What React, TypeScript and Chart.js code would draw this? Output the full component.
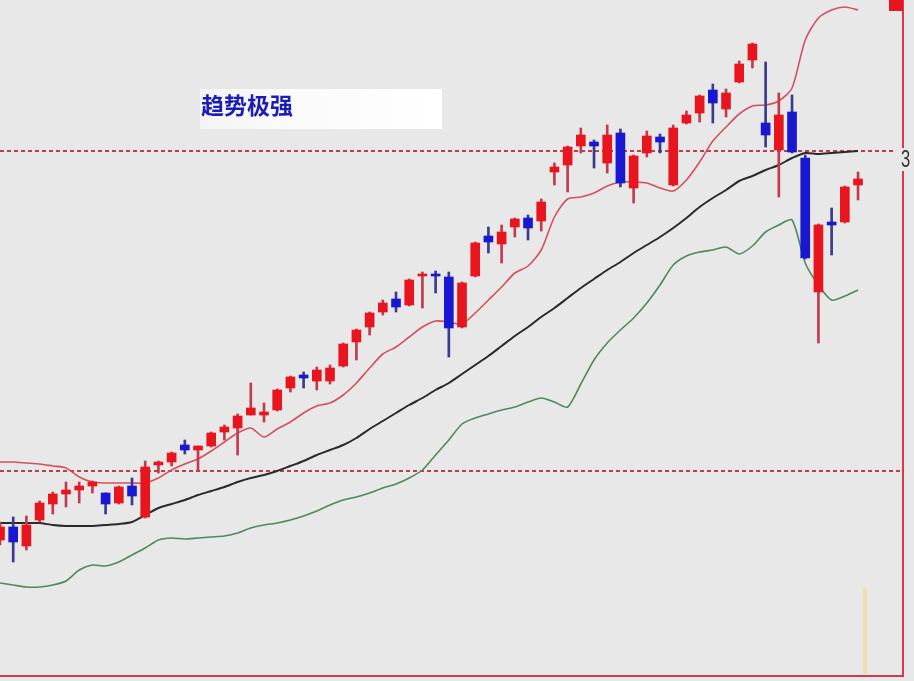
import React, { useEffect, useRef } from 'react';
import { Chart, registerables } from 'chart.js';

Chart.register(...registerables);

// Daily OHLC prices
const opens = [
  2460, 2473, 2454, 2480, 2496, 2506, 2510, 2514, 2507, 2497,
  2514, 2483, 2535, 2538, 2555, 2550, 2554, 2568, 2572, 2585,
  2585, 2590, 2612, 2625, 2619, 2619, 2634, 2658, 2673, 2688,
  2701, 2695, 2724, 2726, 2723, 2673, 2724, 2764, 2756, 2773,
  2782, 2779, 2828, 2835, 2854, 2858, 2837, 2867, 2812, 2847,
  2863, 2815, 2877, 2887, 2910, 2891, 2918, 2940, 2877, 2850,
  2888, 2842, 2708, 2778, 2778, 2815,
];
const highs = [
  2478, 2483, 2484, 2499, 2508, 2518, 2518, 2519, 2507, 2514,
  2522, 2539, 2539, 2548, 2560, 2554, 2568, 2575, 2586, 2617,
  2597, 2611, 2624, 2628, 2633, 2635, 2657, 2671, 2688, 2700,
  2708, 2721, 2728, 2729, 2728, 2718, 2758, 2773, 2775, 2782,
  2785, 2801, 2837, 2854, 2872, 2860, 2875, 2871, 2845, 2869,
  2866, 2875, 2889, 2905, 2916, 2911, 2939, 2957, 2938, 2907,
  2905, 2845, 2776, 2792, 2814, 2828,
];
const lows = [
  2455, 2438, 2450, 2478, 2486, 2493, 2497, 2507, 2486, 2496,
  2495, 2482, 2527, 2534, 2546, 2530, 2553, 2560, 2545, 2585,
  2578, 2589, 2608, 2612, 2610, 2616, 2633, 2640, 2665, 2685,
  2688, 2694, 2692, 2707, 2643, 2672, 2723, 2747, 2737, 2763,
  2760, 2769, 2815, 2808, 2847, 2832, 2827, 2813, 2797, 2843,
  2847, 2814, 2876, 2878, 2877, 2883, 2917, 2932, 2853, 2803,
  2847, 2741, 2657, 2745, 2777, 2800,
];
const closes = [
  2473, 2458, 2475, 2497, 2506, 2510, 2514, 2518, 2496, 2513,
  2504, 2533, 2538, 2547, 2550, 2554, 2567, 2573, 2584, 2592,
  2588, 2610, 2623, 2622, 2630, 2632, 2656, 2670, 2687, 2697,
  2693, 2720, 2726, 2724, 2672, 2717, 2757, 2758, 2768, 2781,
  2772, 2798, 2833, 2853, 2865, 2854, 2865, 2817, 2844, 2864,
  2858, 2872, 2885, 2904, 2897, 2907, 2936, 2956, 2865, 2885,
  2848, 2742, 2775, 2775, 2813, 2821,
];

// Bollinger bands
const upperBand = [
  2538, 2538, 2537, 2536, 2534, 2532, 2523, 2518, 2517, 2517,
  2517, 2517, 2522, 2530, 2536, 2541, 2549, 2558, 2567, 2572,
  2563, 2571, 2578, 2587, 2594, 2597, 2605, 2617, 2632, 2646,
  2653, 2663, 2673, 2679, 2678, 2676, 2687, 2700, 2713, 2727,
  2734, 2750, 2783, 2801, 2803, 2807, 2814, 2818, 2818, 2817,
  2812, 2809, 2820, 2838, 2859, 2873, 2886, 2894, 2895, 2899,
  2912, 2960, 2982, 2990, 2993, 2990,
];
const midBand = [
  2477, 2477, 2477, 2477, 2475, 2474, 2474, 2474, 2475, 2476,
  2478, 2485, 2492, 2496, 2500, 2505, 2509, 2513, 2518, 2522,
  2525, 2529, 2534, 2539, 2545, 2550, 2555, 2562, 2571, 2579,
  2587, 2595, 2602, 2610, 2617, 2626, 2635, 2644, 2654, 2664,
  2673, 2683, 2692, 2702, 2712, 2721, 2730, 2738, 2747, 2755,
  2763, 2772, 2782, 2793, 2802, 2810, 2819, 2824, 2830, 2835,
  2842, 2847, 2846, 2847, 2848, 2849,
];
const lowerBand = [
  2417, 2415, 2413, 2413, 2415, 2419, 2430, 2435, 2434, 2438,
  2445, 2452, 2460, 2462, 2461, 2462, 2463, 2464, 2467, 2472,
  2475, 2477, 2480, 2484, 2489, 2495, 2500, 2503, 2507, 2512,
  2516, 2522, 2530, 2545, 2560, 2576, 2582, 2586, 2590, 2593,
  2598, 2602, 2598, 2593, 2616, 2640, 2657, 2670, 2682, 2697,
  2715, 2735, 2744, 2748, 2750, 2753, 2746, 2754, 2768, 2775,
  2780, 2737, 2715, 2700, 2704, 2710,
];

// Horizontal reference levels
const resistanceLevel = 2849;
const supportLevel = 2529;
const priceLabel = '3';
const caption = '趋势极强';

const UP = '#e8141e';
const DOWN = '#1818d2';
const UP_WICK = '#c23a4c';
const DOWN_WICK = '#3a3a8e';

const decorPlugin = {
  id: 'decor',
  beforeDraw(chart: any) {
    const { ctx, width, height } = chart;
    ctx.save();
    ctx.fillStyle = '#e8e8e8';
    ctx.fillRect(0, 0, width, height);
    ctx.restore();
  },
  beforeDatasetsDraw(chart: any) {
    const { ctx } = chart;
    ctx.save();
    // caption panel
    const grad = ctx.createLinearGradient(200, 0, 442, 0);
    grad.addColorStop(0, '#f4f4f4');
    grad.addColorStop(0.4, '#fbfbfb');
    grad.addColorStop(1, '#ffffff');
    ctx.fillStyle = grad;
    ctx.fillRect(200, 89, 242, 40);
    ctx.fillStyle = '#1c1cb8';
    ctx.font = 'bold 23px "Noto Sans CJK SC", sans-serif';
    ctx.textBaseline = 'middle';
    ctx.textAlign = 'left';
    ctx.fillText(caption, 201, 105);
    ctx.restore();
  },
  afterDraw(chart: any) {
    const { ctx, scales } = chart;
    const yRes = scales.y.getPixelForValue(resistanceLevel);
    ctx.save();
    // right frame line, interrupted by the price label
    ctx.strokeStyle = '#d23c50';
    ctx.lineWidth = 2;
    ctx.beginPath();
    ctx.moveTo(903, 0);
    ctx.lineTo(903, yRes - 3);
    ctx.moveTo(903, yRes + 20);
    ctx.lineTo(903, 677);
    ctx.stroke();
    // bottom frame line
    ctx.strokeStyle = '#c8404f';
    ctx.beginPath();
    ctx.moveTo(0, 676);
    ctx.lineTo(904, 676);
    ctx.stroke();
    // marker block
    ctx.fillStyle = UP;
    ctx.fillRect(889, 0, 14, 11);
    // pale marker line
    ctx.fillStyle = '#eee0aa';
    ctx.fillRect(863, 588, 4, 86);
    // price label
    ctx.fillStyle = '#333333';
    ctx.font = '23px "Liberation Sans", sans-serif';
    ctx.textBaseline = 'top';
    ctx.translate(901, yRes - 2);
    ctx.scale(0.72, 1);
    ctx.fillText(priceLabel, 0, 0);
    ctx.restore();
  },
};

export default function App() {
  const canvasRef = useRef<HTMLCanvasElement | null>(null);

  useEffect(() => {
    const canvas = canvasRef.current;
    if (!canvas) return;
    const sessions = opens.map((_, i) => i);
    const rising = sessions.map((i) => closes[i] >= opens[i]);
    const lastX = sessions.length - 1;

    const chart = new Chart(canvas, {
      type: 'bar',
      data: {
        datasets: [
          {
            type: 'bar',
            label: 'body',
            data: sessions.map((i) => ({ x: i, y: [opens[i], closes[i]] })) as any,
            backgroundColor: rising.map((r) => (r ? UP : DOWN)),
            borderWidth: 0,
            barThickness: 9,
            grouped: false,
            order: 0,
          },
          {
            type: 'bar',
            label: 'wick',
            data: sessions.map((i) => ({ x: i, y: [lows[i], highs[i]] })) as any,
            backgroundColor: rising.map((r) => (r ? UP_WICK : DOWN_WICK)),
            borderWidth: 0,
            barThickness: 2,
            grouped: false,
            order: 1,
          },
          {
            type: 'line',
            label: 'upper',
            data: sessions.map((i) => ({ x: i, y: upperBand[i] })),
            borderColor: '#d4505e',
            borderWidth: 1.6,
            pointRadius: 0,
            tension: 0.25,
            order: 2,
          },
          {
            type: 'line',
            label: 'mid',
            data: sessions.map((i) => ({ x: i, y: midBand[i] })),
            borderColor: '#2a2a2a',
            borderWidth: 2,
            pointRadius: 0,
            tension: 0.25,
            order: 2,
          },
          {
            type: 'line',
            label: 'lower',
            data: sessions.map((i) => ({ x: i, y: lowerBand[i] })),
            borderColor: '#4c8a5c',
            borderWidth: 1.6,
            pointRadius: 0,
            tension: 0.25,
            order: 2,
          },
          {
            type: 'line',
            label: 'resistance',
            data: [
              { x: 0, y: resistanceLevel },
              { x: lastX + 2.8, y: resistanceLevel },
            ],
            borderColor: '#b8404c',
            borderWidth: 2,
            borderDash: [4, 3],
            pointRadius: 0,
            order: 3,
          },
          {
            type: 'line',
            label: 'support',
            data: [
              { x: 0, y: supportLevel },
              { x: lastX + 3.2, y: supportLevel },
            ],
            borderColor: '#b8404c',
            borderWidth: 2,
            borderDash: [4, 3],
            pointRadius: 0,
            order: 3,
          },
        ],
      },
      options: {
        animation: false,
        responsive: false,
        events: [],
        layout: { padding: 0 },
        plugins: {
          legend: { display: false },
          tooltip: { enabled: false },
          title: { display: false },
        },
        scales: {
          x: { type: 'linear', min: 0, max: 69.24, display: false, offset: false },
          y: { type: 'linear', min: 2319, max: 3000, display: false },
        },
      },
      plugins: [decorPlugin],
    });
    return () => chart.destroy();
  }, []);

  return (
    <div style={{ position: 'fixed', left: 0, top: 0, width: 914, height: 681 }}>
      <canvas ref={canvasRef} width={914} height={681} style={{ display: 'block' }} />
    </div>
  );
}
